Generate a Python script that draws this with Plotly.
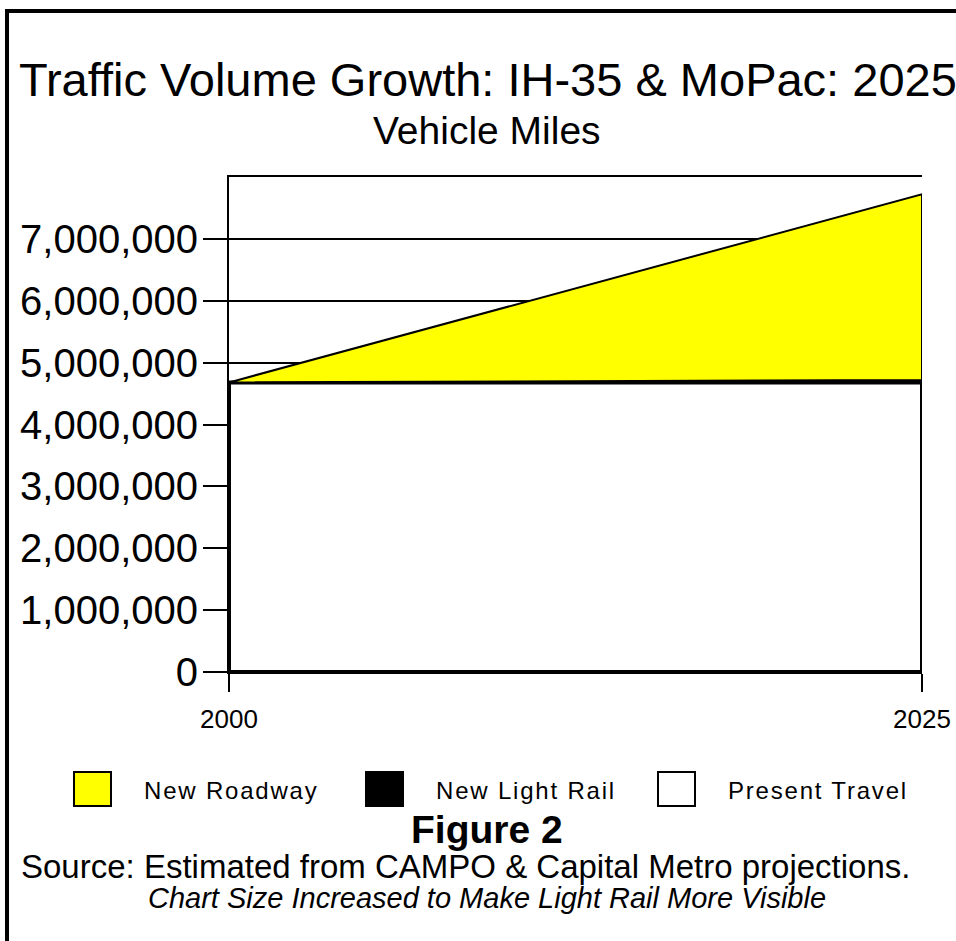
import plotly.graph_objects as go

# Vehicle miles per series, 2000 -> 2025
years = [2000, 2025]
present_travel = [4680000, 4680000]
new_light_rail = [0, 40000]
new_roadway = [0, 3000000]

series_names = ["New Roadway", "New Light Rail", "Present Travel"]
series_colors = ["#ffff00", "#000000", "#ffffff"]

y_ticks = [0, 1000000, 2000000, 3000000, 4000000, 5000000, 6000000, 7000000]
x_ticks = [2000, 2025]

W, H = 956, 941
FONT = "Liberation Sans, Arial, sans-serif"


def px(x):
    return x / W


def py(y):
    return 1 - y / H


def band(lower, upper):
    """Closed polygon between two stacked levels across the year span."""
    xs = [years[0], years[1], years[1], years[0], years[0]]
    ys = [lower[0], lower[1], upper[1], upper[0], lower[0]]
    return xs, ys


base = [0, 0]
rail_top = [p + r for p, r in zip(present_travel, new_light_rail)]
road_top = [t + r for t, r in zip(rail_top, new_roadway)]

fig = go.Figure()

xs, ys = band(base, present_travel)
fig.add_trace(go.Scatter(x=xs, y=ys, fill="toself", fillcolor=series_colors[2],
                         mode="lines", line=dict(color="black", width=4),
                         name=series_names[2], showlegend=False, hoverinfo="skip"))
xs, ys = band(present_travel, rail_top)
fig.add_trace(go.Scatter(x=xs, y=ys, fill="toself", fillcolor=series_colors[1],
                         mode="lines", line=dict(color="black", width=2),
                         name=series_names[1], showlegend=False, hoverinfo="skip"))
xs, ys = band(rail_top, road_top)
fig.add_trace(go.Scatter(x=xs, y=ys, fill="toself", fillcolor=series_colors[0],
                         mode="lines", line=dict(color="black", width=2),
                         name=series_names[0], showlegend=False, hoverinfo="skip"))

fig.update_layout(
    width=W, height=H,
    margin=dict(l=0, r=0, t=0, b=0, autoexpand=False),
    paper_bgcolor="white", plot_bgcolor="white",
    showlegend=False,
    font=dict(family=FONT, color="black"),
    xaxis=dict(
        domain=[px(229), px(922)],
        range=[2000, 2025],
        automargin=False,
        tickvals=x_ticks, ticktext=[str(v) for v in x_ticks],
        ticks="outside", ticklen=18, tickwidth=2, tickcolor="black",
        ticklabeloverflow="allow", ticklabelstandoff=5,
        showline=True, linecolor="black", linewidth=2, mirror=True,
        showgrid=False, zeroline=False,
        tickfont=dict(family=FONT, size=26, color="black"),
    ),
    yaxis=dict(
        domain=[py(672), py(177)],
        range=[0, 8000000],
        automargin=False,
        tickvals=y_ticks, tickformat=",d",
        ticks="outside", ticklen=24, tickwidth=2, tickcolor="black",
        ticklabelstandoff=-3,
        showline=True, linecolor="black", linewidth=2,
        showgrid=True, gridcolor="black", gridwidth=2,
        zeroline=False,
        tickfont=dict(family=FONT, size=40, color="black"),
    ),
)

# Outer frame
fig.add_shape(type="rect", xref="paper", yref="paper",
              x0=px(7), x1=px(1000), y0=py(990), y1=py(11),
              line=dict(color="black", width=4), fillcolor="rgba(0,0,0,0)",
              layer="above")

# Headings and notes
texts = [
    ("Traffic Volume Growth: IH-35 & MoPac: 2025", 488, 80, 47),
    ("Vehicle Miles", 487, 130, 39),
    ("<b>Figure 2</b>", 487, 829, 39),
    ("Source: Estimated from CAMPO & Capital Metro projections.", 466, 866, 33),
    ("<i>Chart Size Increased to Make Light Rail More Visible</i>", 487, 898, 29),
]
for txt, x, y, size in texts:
    fig.add_annotation(text=txt, xref="paper", yref="paper", x=px(x), y=py(y),
                       xanchor="center", yanchor="middle", showarrow=False,
                       font=dict(family=FONT, size=size, color="black"))

# Legend keys
key_left = [74, 366, 658]
for name, color, left in zip(series_names, series_colors, key_left):
    fig.add_shape(type="rect", xref="paper", yref="paper",
                  x0=px(left), x1=px(left + 37), y0=py(806), y1=py(772),
                  line=dict(color="black", width=2), fillcolor=color)
    fig.add_annotation(text=f'<span style="letter-spacing:1.8px">{name}</span>',
                       xref="paper", yref="paper", x=px(left + 68), y=py(790),
                       xanchor="left", yanchor="middle", showarrow=False,
                       font=dict(family=FONT, size=24, color="black"))

fig.write_html("out.html")
